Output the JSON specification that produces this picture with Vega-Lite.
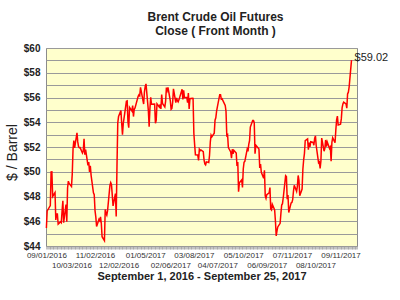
{
  "$schema": "https://vega.github.io/schema/vega-lite/v6.json",
  "width": 311,
  "height": 198,
  "autosize": {"type": "none"},
  "padding": {"left": 46, "top": 48, "right": 43, "bottom": 54},
  "background": "white",
  "config": {
    "view": {"fill": "#FFFFCC", "stroke": "#8c8c8c", "strokeWidth": 1},
    "font": "Liberation Sans"
  },
  "title": {
    "text": ["Brent Crude Oil Futures", "Close ( Front Month )"],
    "fontSize": 12,
    "fontWeight": "bold",
    "color": "#222222",
    "font": "Liberation Sans",
    "anchor": "middle",
    "frame": "group",
    "dx": 14,
    "offset": 5,
    "lineHeight": 14
  },
  "datasets": {
    "brent": [
      {"d": "2016-09-01", "p": 45.45}, {"d": "2016-09-02", "p": 46.83}, {"d": "2016-09-06", "p": 47.26}, {"d": "2016-09-07", "p": 49.98}, {"d": "2016-09-08", "p": 49.99}, {"d": "2016-09-09", "p": 48.01}, {"d": "2016-09-12", "p": 48.32}, {"d": "2016-09-13", "p": 46.10}, {"d": "2016-09-14", "p": 46.59}, {"d": "2016-09-15", "p": 46.59}, {"d": "2016-09-16", "p": 45.77}, {"d": "2016-09-19", "p": 45.95}, {"d": "2016-09-20", "p": 45.88}, {"d": "2016-09-21", "p": 46.83}, {"d": "2016-09-22", "p": 47.65}, {"d": "2016-09-23", "p": 45.89}, {"d": "2016-09-26", "p": 47.35}, {"d": "2016-09-27", "p": 45.97}, {"d": "2016-09-28", "p": 48.69}, {"d": "2016-09-29", "p": 49.24}, {"d": "2016-09-30", "p": 49.06},
      {"d": "2016-10-03", "p": 48.81}, {"d": "2016-10-04", "p": 49.85}, {"d": "2016-10-05", "p": 51.86}, {"d": "2016-10-06", "p": 52.51}, {"d": "2016-10-07", "p": 51.93}, {"d": "2016-10-10", "p": 53.14}, {"d": "2016-10-11", "p": 52.41}, {"d": "2016-10-12", "p": 52.03}, {"d": "2016-10-13", "p": 51.94}, {"d": "2016-10-14", "p": 51.95}, {"d": "2016-10-17", "p": 51.52}, {"d": "2016-10-18", "p": 51.68}, {"d": "2016-10-19", "p": 52.67}, {"d": "2016-10-20", "p": 51.38}, {"d": "2016-10-21", "p": 51.78}, {"d": "2016-10-24", "p": 50.52}, {"d": "2016-10-25", "p": 50.79}, {"d": "2016-10-26", "p": 49.98}, {"d": "2016-10-27", "p": 50.47}, {"d": "2016-10-28", "p": 49.71}, {"d": "2016-10-31", "p": 48.30},
      {"d": "2016-11-01", "p": 48.14}, {"d": "2016-11-02", "p": 46.86}, {"d": "2016-11-03", "p": 46.35}, {"d": "2016-11-04", "p": 45.58}, {"d": "2016-11-07", "p": 46.15}, {"d": "2016-11-08", "p": 46.04}, {"d": "2016-11-09", "p": 46.36}, {"d": "2016-11-10", "p": 45.84}, {"d": "2016-11-11", "p": 44.75}, {"d": "2016-11-14", "p": 44.43}, {"d": "2016-11-15", "p": 46.95}, {"d": "2016-11-16", "p": 46.63}, {"d": "2016-11-17", "p": 46.49}, {"d": "2016-11-18", "p": 46.86}, {"d": "2016-11-21", "p": 48.90}, {"d": "2016-11-22", "p": 49.12}, {"d": "2016-11-23", "p": 48.95}, {"d": "2016-11-25", "p": 47.24}, {"d": "2016-11-28", "p": 48.24}, {"d": "2016-11-29", "p": 46.38}, {"d": "2016-11-30", "p": 50.47},
      {"d": "2016-12-01", "p": 53.94}, {"d": "2016-12-02", "p": 54.46}, {"d": "2016-12-05", "p": 54.94}, {"d": "2016-12-06", "p": 53.93}, {"d": "2016-12-07", "p": 53.00}, {"d": "2016-12-08", "p": 53.89}, {"d": "2016-12-09", "p": 54.33}, {"d": "2016-12-12", "p": 55.69}, {"d": "2016-12-13", "p": 55.72}, {"d": "2016-12-14", "p": 54.02}, {"d": "2016-12-15", "p": 53.56}, {"d": "2016-12-16", "p": 55.21}, {"d": "2016-12-19", "p": 54.92}, {"d": "2016-12-20", "p": 55.35}, {"d": "2016-12-21", "p": 54.46}, {"d": "2016-12-22", "p": 55.05}, {"d": "2016-12-23", "p": 55.16}, {"d": "2016-12-27", "p": 56.09}, {"d": "2016-12-28", "p": 56.22}, {"d": "2016-12-29", "p": 56.14}, {"d": "2016-12-30", "p": 56.82},
      {"d": "2017-01-03", "p": 55.47}, {"d": "2017-01-04", "p": 56.46}, {"d": "2017-01-05", "p": 56.89}, {"d": "2017-01-06", "p": 57.10}, {"d": "2017-01-09", "p": 54.94}, {"d": "2017-01-10", "p": 53.64}, {"d": "2017-01-11", "p": 55.10}, {"d": "2017-01-12", "p": 56.01}, {"d": "2017-01-13", "p": 55.45}, {"d": "2017-01-17", "p": 55.47}, {"d": "2017-01-18", "p": 53.92}, {"d": "2017-01-19", "p": 54.16}, {"d": "2017-01-20", "p": 55.49}, {"d": "2017-01-23", "p": 55.23}, {"d": "2017-01-24", "p": 55.44}, {"d": "2017-01-25", "p": 55.08}, {"d": "2017-01-26", "p": 56.24}, {"d": "2017-01-27", "p": 55.52}, {"d": "2017-01-30", "p": 55.23}, {"d": "2017-01-31", "p": 55.70},
      {"d": "2017-02-01", "p": 56.80}, {"d": "2017-02-02", "p": 56.56}, {"d": "2017-02-03", "p": 56.81}, {"d": "2017-02-06", "p": 55.72}, {"d": "2017-02-07", "p": 55.05}, {"d": "2017-02-08", "p": 55.12}, {"d": "2017-02-09", "p": 55.63}, {"d": "2017-02-10", "p": 56.70}, {"d": "2017-02-13", "p": 55.59}, {"d": "2017-02-14", "p": 55.97}, {"d": "2017-02-15", "p": 55.75}, {"d": "2017-02-16", "p": 55.65}, {"d": "2017-02-17", "p": 55.81}, {"d": "2017-02-21", "p": 56.66}, {"d": "2017-02-22", "p": 55.84}, {"d": "2017-02-23", "p": 56.58}, {"d": "2017-02-24", "p": 55.99}, {"d": "2017-02-27", "p": 56.01}, {"d": "2017-02-28", "p": 55.59},
      {"d": "2017-03-01", "p": 56.36}, {"d": "2017-03-02", "p": 55.08}, {"d": "2017-03-03", "p": 55.90}, {"d": "2017-03-06", "p": 55.93}, {"d": "2017-03-07", "p": 55.92}, {"d": "2017-03-08", "p": 53.11}, {"d": "2017-03-09", "p": 52.19}, {"d": "2017-03-10", "p": 51.37}, {"d": "2017-03-13", "p": 51.35}, {"d": "2017-03-14", "p": 50.92}, {"d": "2017-03-15", "p": 51.81}, {"d": "2017-03-16", "p": 51.70}, {"d": "2017-03-17", "p": 51.76}, {"d": "2017-03-20", "p": 51.62}, {"d": "2017-03-21", "p": 50.96}, {"d": "2017-03-22", "p": 50.64}, {"d": "2017-03-23", "p": 50.56}, {"d": "2017-03-24", "p": 50.80}, {"d": "2017-03-27", "p": 50.75}, {"d": "2017-03-28", "p": 51.33}, {"d": "2017-03-29", "p": 52.42}, {"d": "2017-03-30", "p": 52.96}, {"d": "2017-03-31", "p": 52.83},
      {"d": "2017-04-03", "p": 53.12}, {"d": "2017-04-04", "p": 54.17}, {"d": "2017-04-05", "p": 54.36}, {"d": "2017-04-06", "p": 54.89}, {"d": "2017-04-07", "p": 55.24}, {"d": "2017-04-10", "p": 56.23}, {"d": "2017-04-11", "p": 56.23}, {"d": "2017-04-12", "p": 55.86}, {"d": "2017-04-13", "p": 55.89}, {"d": "2017-04-17", "p": 55.36}, {"d": "2017-04-18", "p": 54.89}, {"d": "2017-04-19", "p": 52.93}, {"d": "2017-04-20", "p": 52.99}, {"d": "2017-04-21", "p": 51.96}, {"d": "2017-04-24", "p": 51.60}, {"d": "2017-04-25", "p": 51.10}, {"d": "2017-04-26", "p": 51.82}, {"d": "2017-04-27", "p": 51.44}, {"d": "2017-04-28", "p": 51.73},
      {"d": "2017-05-01", "p": 51.52}, {"d": "2017-05-02", "p": 50.46}, {"d": "2017-05-03", "p": 50.79}, {"d": "2017-05-04", "p": 48.38}, {"d": "2017-05-05", "p": 49.10}, {"d": "2017-05-08", "p": 49.34}, {"d": "2017-05-09", "p": 48.73}, {"d": "2017-05-10", "p": 50.22}, {"d": "2017-05-11", "p": 50.77}, {"d": "2017-05-12", "p": 50.84}, {"d": "2017-05-15", "p": 51.82}, {"d": "2017-05-16", "p": 51.65}, {"d": "2017-05-17", "p": 52.21}, {"d": "2017-05-18", "p": 52.51}, {"d": "2017-05-19", "p": 53.61}, {"d": "2017-05-22", "p": 54.15}, {"d": "2017-05-23", "p": 54.15}, {"d": "2017-05-24", "p": 53.96}, {"d": "2017-05-25", "p": 51.46}, {"d": "2017-05-26", "p": 52.15}, {"d": "2017-05-30", "p": 51.84}, {"d": "2017-05-31", "p": 50.31},
      {"d": "2017-06-01", "p": 50.63}, {"d": "2017-06-02", "p": 49.95}, {"d": "2017-06-05", "p": 49.47}, {"d": "2017-06-06", "p": 50.12}, {"d": "2017-06-07", "p": 48.06}, {"d": "2017-06-08", "p": 47.86}, {"d": "2017-06-09", "p": 48.15}, {"d": "2017-06-12", "p": 48.29}, {"d": "2017-06-13", "p": 48.72}, {"d": "2017-06-14", "p": 47.00}, {"d": "2017-06-15", "p": 46.92}, {"d": "2017-06-16", "p": 47.37}, {"d": "2017-06-19", "p": 46.91}, {"d": "2017-06-20", "p": 46.02}, {"d": "2017-06-21", "p": 44.82}, {"d": "2017-06-22", "p": 45.22}, {"d": "2017-06-23", "p": 45.54}, {"d": "2017-06-26", "p": 45.83}, {"d": "2017-06-27", "p": 46.65}, {"d": "2017-06-28", "p": 47.31}, {"d": "2017-06-29", "p": 47.42}, {"d": "2017-06-30", "p": 47.92},
      {"d": "2017-07-03", "p": 49.68}, {"d": "2017-07-04", "p": 49.61}, {"d": "2017-07-05", "p": 47.79}, {"d": "2017-07-06", "p": 48.11}, {"d": "2017-07-07", "p": 46.71}, {"d": "2017-07-10", "p": 47.48}, {"d": "2017-07-11", "p": 47.52}, {"d": "2017-07-12", "p": 47.74}, {"d": "2017-07-13", "p": 48.42}, {"d": "2017-07-14", "p": 48.91}, {"d": "2017-07-17", "p": 48.42}, {"d": "2017-07-18", "p": 48.84}, {"d": "2017-07-19", "p": 49.70}, {"d": "2017-07-20", "p": 49.30}, {"d": "2017-07-21", "p": 48.06}, {"d": "2017-07-24", "p": 48.60}, {"d": "2017-07-25", "p": 50.20}, {"d": "2017-07-26", "p": 50.97}, {"d": "2017-07-27", "p": 51.49}, {"d": "2017-07-28", "p": 52.52}, {"d": "2017-07-31", "p": 52.65},
      {"d": "2017-08-01", "p": 51.78}, {"d": "2017-08-02", "p": 52.36}, {"d": "2017-08-03", "p": 52.01}, {"d": "2017-08-04", "p": 52.42}, {"d": "2017-08-07", "p": 52.37}, {"d": "2017-08-08", "p": 52.14}, {"d": "2017-08-09", "p": 52.70}, {"d": "2017-08-10", "p": 52.90}, {"d": "2017-08-11", "p": 52.10}, {"d": "2017-08-14", "p": 50.73}, {"d": "2017-08-15", "p": 50.80}, {"d": "2017-08-16", "p": 50.27}, {"d": "2017-08-17", "p": 50.87}, {"d": "2017-08-18", "p": 52.72}, {"d": "2017-08-21", "p": 51.66}, {"d": "2017-08-22", "p": 51.87}, {"d": "2017-08-23", "p": 52.57}, {"d": "2017-08-24", "p": 52.04}, {"d": "2017-08-25", "p": 52.41}, {"d": "2017-08-28", "p": 51.89}, {"d": "2017-08-29", "p": 52.00}, {"d": "2017-08-30", "p": 50.86}, {"d": "2017-08-31", "p": 52.38},
      {"d": "2017-09-01", "p": 52.75}, {"d": "2017-09-04", "p": 52.34}, {"d": "2017-09-05", "p": 53.38}, {"d": "2017-09-06", "p": 54.20}, {"d": "2017-09-07", "p": 54.49}, {"d": "2017-09-08", "p": 53.78}, {"d": "2017-09-11", "p": 53.84}, {"d": "2017-09-12", "p": 54.27}, {"d": "2017-09-13", "p": 55.16}, {"d": "2017-09-14", "p": 55.47}, {"d": "2017-09-15", "p": 55.62}, {"d": "2017-09-18", "p": 55.48}, {"d": "2017-09-19", "p": 55.14}, {"d": "2017-09-20", "p": 56.29}, {"d": "2017-09-21", "p": 56.43}, {"d": "2017-09-22", "p": 56.86}, {"d": "2017-09-25", "p": 59.02}
    ]
  },
  "layer": [
    {
      "data": {"name": "brent"},
      "mark": {"type": "line", "color": "#ff0000", "strokeWidth": 1.5},
      "encoding": {
        "x": {
          "field": "d",
          "type": "temporal",
          "scale": {"type": "utc", "domain": [{"year": 2016, "month": 8, "date": 31, "hours": 12, "utc": true}, {"year": 2017, "month": 10, "date": 2, "utc": true}]},
          "axis": {
            "orient": "bottom",
            "values": [
              {"year": 2016, "month": 9, "date": 1, "utc": true},
              {"year": 2016, "month": 10, "date": 3, "utc": true},
              {"year": 2016, "month": 11, "date": 2, "utc": true},
              {"year": 2016, "month": 12, "date": 2, "utc": true},
              {"year": 2017, "month": 1, "date": 5, "utc": true},
              {"year": 2017, "month": 2, "date": 6, "utc": true},
              {"year": 2017, "month": 3, "date": 8, "utc": true},
              {"year": 2017, "month": 4, "date": 7, "utc": true},
              {"year": 2017, "month": 5, "date": 10, "utc": true},
              {"year": 2017, "month": 6, "date": 9, "utc": true},
              {"year": 2017, "month": 7, "date": 11, "utc": true},
              {"year": 2017, "month": 8, "date": 10, "utc": true},
              {"year": 2017, "month": 9, "date": 11, "utc": true}
            ],
            "labelExpr": "utcmonth(datum.value) % 2 == 0 ? utcFormat(datum.value, '%m/%d/%Y') : [' ', utcFormat(datum.value, '%m/%d/%Y')]",
            "labelOverlap": false,
            "labelFlush": false,
            "labelBound": false,
            "labelFontSize": 8,
            "labelColor": "#333333",
            "labelFont": "Liberation Sans",
            "labelPadding": 5,
            "labelLineHeight": 10,
            "ticks": false,
            "domain": false,
            "grid": false,
            "title": "September 1, 2016 - September 25, 2017",
            "titleFontSize": 11,
            "titleFontWeight": "bold",
            "titleColor": "#222222",
            "titleFont": "Liberation Sans",
            "titleBaseline": "alphabetic",
            "titleY": 33
          }
        },
        "y": {
          "field": "p",
          "type": "quantitative",
          "scale": {"domain": [44, 60], "nice": false, "zero": false},
          "axis": {
            "values": [44, 45, 46, 47, 48, 49, 50, 51, 52, 53, 54, 55, 56, 57, 58, 59, 60],
            "labelExpr": "datum.value % 2 == 0 ? '$' + datum.value : ''",
            "grid": true,
            "gridColor": "#9a9a9a",
            "gridWidth": 1,
            "ticks": false,
            "domain": false,
            "labelFontSize": 10,
            "labelFontWeight": "bold",
            "labelColor": "#222222",
            "labelFont": "Liberation Sans",
            "labelPadding": 6,
            "labelOverlap": false,
            "title": "$ / Barrel",
            "titleFontSize": 14,
            "titleFontWeight": "normal",
            "titleColor": "#222222",
            "titleFont": "Liberation Sans",
            "titleAngle": -90,
            "titleX": -34,
            "titleY": 104,
            "titleBaseline": "middle",
            "titleAlign": "center"
          }
        }
      }
    },
    {
      "data": {"values": [{"d": "2017-09-25", "p": 59.02, "label": "$59.02"}]},
      "mark": {"type": "text", "align": "left", "baseline": "middle", "dx": 3, "dy": -2, "fontSize": 11, "color": "#222222", "font": "Liberation Sans"},
      "encoding": {
        "x": {
          "field": "d",
          "type": "temporal",
          "scale": {"type": "utc", "domain": [{"year": 2016, "month": 8, "date": 31, "hours": 12, "utc": true}, {"year": 2017, "month": 10, "date": 2, "utc": true}]},
          "axis": {
            "orient": "bottom",
            "tickCount": {"interval": "day", "step": 1},
            "labels": false,
            "ticks": true,
            "tickSize": 3,
            "tickColor": "#9a9a9a",
            "tickWidth": 0.6,
            "domain": false,
            "grid": false,
            "title": null
          }
        },
        "y": {
          "field": "p",
          "type": "quantitative",
          "scale": {"domain": [44, 60], "nice": false, "zero": false},
          "axis": {
            "values": [44, 45, 46, 47, 48, 49, 50, 51, 52, 53, 54, 55, 56, 57, 58, 59, 60],
            "labelExpr": "datum.value % 2 == 0 ? '$' + datum.value : ''",
            "grid": true,
            "gridColor": "#9a9a9a",
            "gridWidth": 1,
            "ticks": false,
            "domain": false,
            "labelFontSize": 10,
            "labelFontWeight": "bold",
            "labelColor": "#222222",
            "labelFont": "Liberation Sans",
            "labelPadding": 6,
            "labelOverlap": false,
            "title": "$ / Barrel",
            "titleFontSize": 14,
            "titleFontWeight": "normal",
            "titleColor": "#222222",
            "titleFont": "Liberation Sans",
            "titleAngle": -90,
            "titleX": -34,
            "titleY": 104,
            "titleBaseline": "middle",
            "titleAlign": "center"
          }
        },
        "text": {"field": "label"}
      }
    }
  ],
  "resolve": {"axis": {"x": "independent"}}
}
